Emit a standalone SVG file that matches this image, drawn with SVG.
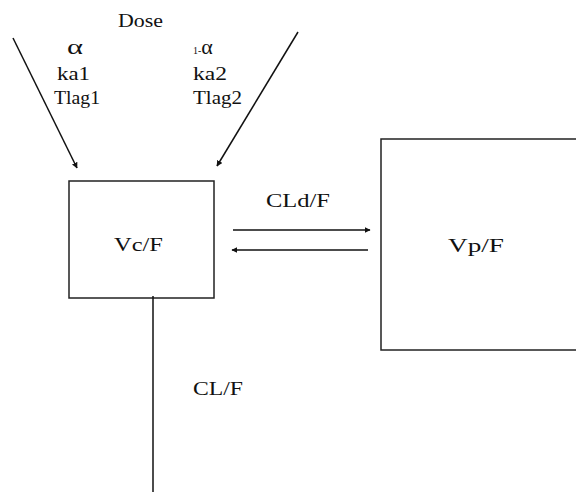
<svg xmlns="http://www.w3.org/2000/svg" width="576" height="492" viewBox="0 0 576 492">
<defs>
<style>
text{font-family:"Liberation Serif","Times New Roman",serif;font-size:18px;fill:#111}
.alpha{font-size:22px}
.box{fill:#fff;stroke:#222;stroke-width:1.5}
.ln{stroke:#111;stroke-width:1.5;fill:none}
</style>
<marker id="ah" viewBox="0 0 10 10" refX="9" refY="5" markerWidth="6" markerHeight="6" markerUnits="userSpaceOnUse" orient="auto">
<path d="M0,0 L10,5 L0,10 z" fill="#111"/>
</marker>
</defs>
<rect width="576" height="492" fill="#fff"/>
<g id="dose-labels">
<text x="118" y="27" textLength="45" lengthAdjust="spacingAndGlyphs">Dose</text>
<text class="alpha" x="67" y="54" textLength="16" lengthAdjust="spacingAndGlyphs">α</text>
<text x="57" y="80" textLength="33" lengthAdjust="spacingAndGlyphs">ka1</text>
<text x="54" y="104" textLength="46" lengthAdjust="spacingAndGlyphs">Tlag1</text>
<text x="193" y="54"><tspan font-size="10">1-</tspan><tspan class="alpha">α</tspan></text>
<text x="193" y="80" textLength="34" lengthAdjust="spacingAndGlyphs">ka2</text>
<text x="193" y="104" textLength="49" lengthAdjust="spacingAndGlyphs">Tlag2</text>
</g>
<g id="Vc">
<rect class="box" x="69" y="181" width="145" height="117"/>
<text x="114" y="251" textLength="49" lengthAdjust="spacingAndGlyphs">Vc/F</text>
</g>
<g id="Vp">
<rect class="box" x="381" y="139" width="200" height="211"/>
<text x="448" y="252" textLength="56" lengthAdjust="spacingAndGlyphs">Vp/F</text>
</g>
<g id="connectors">
<line class="ln" x1="13" y1="38" x2="77" y2="168" marker-end="url(#ah)"/>
<line class="ln" x1="298" y1="32" x2="217" y2="166" marker-end="url(#ah)"/>
<line class="ln" x1="233" y1="230" x2="370" y2="230" marker-end="url(#ah)"/>
<line class="ln" x1="368" y1="250" x2="232" y2="250" marker-end="url(#ah)"/>
<line class="ln" x1="153" y1="296" x2="153" y2="492"/>
</g>
<g id="edge-labels">
<text x="266" y="207" textLength="64" lengthAdjust="spacingAndGlyphs">CLd/F</text>
<text x="193" y="395" textLength="50" lengthAdjust="spacingAndGlyphs">CL/F</text>
</g>
</svg>
